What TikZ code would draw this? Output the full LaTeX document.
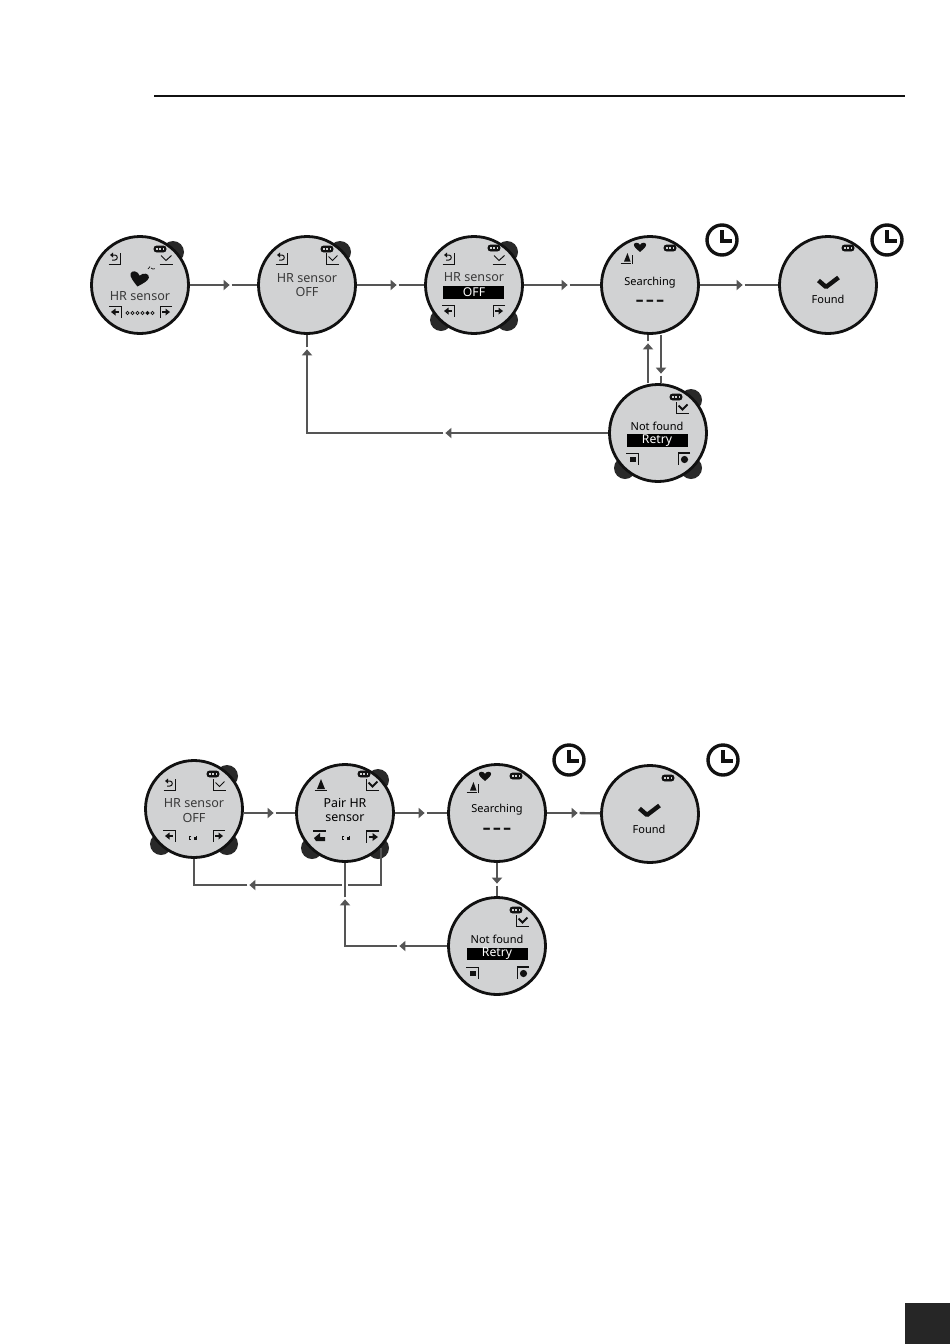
\documentclass[tikz,border=0pt]{standalone}
\usepackage{fontspec}
\setmainfont{Noto Sans}
\usetikzlibrary{shapes.geometric}
\definecolor{face}{HTML}{D1D2D3}
\definecolor{ink}{HTML}{111111}
\definecolor{wire}{HTML}{555555}
\definecolor{faint}{HTML}{3A3A3A}
\tikzset{
  watch/.style={circle,draw=ink,fill=face,line width=2.8pt,minimum size=97pt,inner sep=0pt},
  knob/.style={fill=ink!90!white},
  clockring/.style={circle,draw=ink,line width=3.4pt,minimum size=30pt,inner sep=0pt},
  clockhand/.style={draw=ink,line width=3.2pt,line join=miter},
  conn/.style={draw=wire,line width=2.3pt,line join=miter},
  flowtip/.style={isosceles triangle,isosceles triangle stretches,fill=wire,inner sep=0pt,outer sep=0pt,minimum height=6pt,minimum width=10.5pt},
  tr/.style={flowtip,shape border rotate=0},
  tl/.style={flowtip,shape border rotate=180},
  tu/.style={flowtip,shape border rotate=90},
  td/.style={flowtip,shape border rotate=270},
  lite/.style={text=faint,font=\fontsize{12.6}{13}\selectfont,inner sep=0pt},
  dark/.style={text=black,font=\fontsize{11}{12}\selectfont,inner sep=0pt},
  darkb/.style={text=black,font=\fontsize{12.4}{13}\selectfont,inner sep=0pt},
  inv/.style={text=white,font=\fontsize{12.2}{13}\selectfont,inner sep=0pt},
  dashes/.style={text=ink,font=\fontsize{27}{27}\bfseries\selectfont,inner sep=0pt},
  ic/.style={draw=ink,line width=1pt},
  icb/.style={draw=ink,line width=1.8pt},
  battery/.pic={
    \draw[draw=ink,fill=ink,line width=.8pt,rounded corners=2.6pt] (-6,-3) rectangle (6,3);
    \foreach \q in {-3.4,0,3.4} \fill[face] (\q-.9,-1.4) rectangle (\q+.9,1.4);
  },
  heartmark/.pic={
    \fill[ink] (0,9) .. controls (-6,4) and (-11,0) .. (-11,-4) .. controls (-11,-9) and (-3,-9) .. (0,-4)
      .. controls (3,-9) and (11,-9) .. (11,-4) .. controls (11,0) and (6,4) .. (0,9) -- cycle;
  },
  backicon/.pic={
    \draw[ic] (-6.5,6)--(5,6)--(5,-5);
    \draw[ic] (-3,-3)--(0,-3) .. controls (3,-3) and (3,2) .. (0,2)--(-3,2);
    \fill[ink] (-5,-3)--(-2,-5.5)--(-2,-.5)--cycle;
  },
  upicon/.pic={
    \draw[icb] (-6.5,5.5)--(3.5,5.5);
    \draw[ic] (5.5,6)--(5.5,-3);
    \fill[ink] (-3,3.5)--(.5,-5)--(3.5,3.5)--cycle;
  },
  flaskicon/.pic={
    \draw[icb] (-6.5,5.5)--(6,5.5);
    \fill[ink] (-4,4)--(0,-6)--(4,4)--cycle;
  },
  okline/.pic={
    \draw[ic] (-6.5,5)--(6.5,5);
    \draw[ic] (-5,-3.5)--(0,1.5)--(5.5,-3.5);
  },
  okbrack/.pic={
    \draw[ic] (-6,-6)--(-6,5)--(6.5,5);
    \draw[ic] (-3.5,-2.5)--(.5,1.5)--(5.5,-3.5);
  },
  okbold/.pic={
    \draw[ic] (-6,-6)--(-6,5)--(6.5,5);
    \draw[icb] (-3.5,-2.5)--(.5,1.5)--(5.5,-3.5);
  },
  leftarr/.pic={
    \draw[ic] (-7,-6)--(5,-6)--(5,5.5);
    \draw[icb] (-1,0)--(3,0);
    \fill[ink] (-5,0)--(-.5,-3.5)--(-.5,3.5)--cycle;
  },
  rightarr/.pic={
    \draw[ic] (7,-6)--(-5,-6)--(-5,5.5);
    \draw[icb] (1,0)--(-3,0);
    \fill[ink] (5,0)--(.5,-3.5)--(.5,3.5)--cycle;
  },
  leftbold/.pic={
    \draw[icb] (-7,-6)--(6,-6);
    \fill[ink] (-6,1)--(0,-4)--(0,0)--(5,0)--(5,4)--(-4,4)--cycle;
  },
  rightbold/.pic={
    \draw[icb] (7,-6)--(-6,-6);
    \draw[ic] (-6,-6)--(-6,5.5);
    \draw[icb] (1,0)--(-3,0);
    \fill[ink] (6,0)--(.5,-4)--(.5,4)--cycle;
  },
  squarel/.pic={
    \draw[ic] (-7,-6)--(5,-6)--(5,5.5);
    \fill[ink] (-3,-2.5) rectangle (2.5,3);
  },
  burstr/.pic={
    \draw[icb] (7,-6)--(-5,-6);
    \draw[ic] (-5,-6)--(-5,5.5);
    \fill[ink] (1.5,.5) circle (3.6pt);
  },
  tinypair/.pic={
    \draw[draw=ink,line width=.9pt] (-1.6,-1.6)--(-3.6,-1.6)--(-3.6,1.6)--(-1.6,1.6);
    \fill[ink] (1,-.6) rectangle (3.8,1.8);
    \fill[ink] (3,-2) rectangle (3.8,1.8);
  },
  dotrow/.pic={
    \foreach \q in {-12.5,-7.5,-2.5,2.5,7.5,12.5} \draw[draw=ink,line width=.6pt] (\q,0) circle (1.6pt);
    \fill[ink] (7.5,0) circle (1.6pt);
  },
  bigtick/.pic={
    \draw[draw=ink,line width=4.4pt,line join=round] (-9.5,-3.5)--(-2,3)--(10.5,-6.5);
  },
  waves/.pic={
    \draw[draw=ink,line width=.7pt] (-2,-1) arc[start angle=180,end angle=100,radius=2.4pt];
    \draw[draw=ink,line width=.7pt] (1,-2) arc[start angle=-140,end angle=-60,radius=3pt];
  }
}
\begin{document}
\begin{tikzpicture}[x=1pt,y=-1pt]
\useasboundingbox (0,0) rectangle (950,1344);
\fill[white] (0,0) rectangle (950,1344);
\draw[draw=ink,line width=1.3pt] (154,96)--(905,96);
\fill[black!85] (905,1303) rectangle (950,1344);

% knobs behind the faces: top right of A B C F G H, bottom pair of C F G H
\foreach \p/\r in {140/285,307/285,474/285,658/433,194/809,345/813} {
  \fill[knob] (\p+33,\r-33) circle (11pt);
}
\foreach \p/\r in {474/285,658/433,194/809,345/813} {
  \fill[knob] (\p+33,\r+35) circle (11pt);
  \fill[knob] (\p-33,\r+35) circle (11pt);
}

% faces
\node[watch] (A) at (140,285) {};
\node[watch] (B) at (307,285) {};
\node[watch] (C) at (474,285) {};
\node[watch] (D) at (650,285) {};
\node[watch] (E) at (828,285) {};
\node[watch] (F) at (658,433) {};
\node[watch] (G) at (194,809) {};
\node[watch] (H) at (345,813) {};
\node[watch] (I) at (497,813) {};
\node[watch] (J) at (650,814) {};
\node[watch] (K) at (497,946) {};

% markers, row 1
\node[tr] (m1) at (226,285) {};
\node[tr] (m2) at (393,285) {};
\node[tr] (m3) at (564,285) {};
\node[tr] (m4) at (739,285) {};
\node[tu] (m5) at (648,347) {};
\node[td] (m6) at (661,370) {};
\node[tl] (m7) at (449,433) {};
\node[tu] (m8) at (307,353) {};
\coordinate (b1) at (307,433);
% markers, row 2
\node[tr] (n1) at (270,813) {};
\node[tr] (n2) at (421,813) {};
\node[tr] (n3) at (574,813) {};
\node[td] (n4) at (497,880) {};
\node[tl] (n5) at (403,946) {};
\node[tu] (n6) at (345,903) {};
\node[tl] (n7) at (253,885) {};
\coordinate (c1) at (345,946);
\coordinate (c2) at (381,885);
\coordinate (c3) at (194,885);
\coordinate (c4) at (381,848);

% connectors, row 1
\draw[conn] (A)--(m1);
\draw[conn,shorten <=2pt] (m1)--(B);
\draw[conn] (B)--(m2);
\draw[conn,shorten <=2pt] (m2)--(C);
\draw[conn] (C)--(m3);
\draw[conn,shorten <=2pt] (m3)--(D);
\draw[conn] (D)--(m4);
\draw[conn,shorten <=2pt] (m4)--(E);
\draw[conn] (m5 |- F.north)--(m5);
\draw[conn,shorten <=2pt] (m5)--(m5 |- D.south);
\draw[conn] (m6 |- D.south)--(m6);
\draw[conn,shorten <=2pt] (m6)--(m6 |- F.north);
\draw[conn] (F)--(m7);
\draw[conn,shorten <=2pt] (m7)--(b1)--(m8);
\draw[conn,shorten <=2pt] (m8)--(B);

% connectors, row 2
\draw[conn] (n1 -| G.east)--(n1);
\draw[conn,shorten <=2pt] (n1)--(H);
\draw[conn] (H)--(n2);
\draw[conn,shorten <=2pt] (n2)--(I);
\draw[conn] (I)--(n3);
\draw[conn,shorten <=2pt] (n3)--(J);
\draw[conn] (I)--(n4);
\draw[conn,shorten <=2pt] (n4)--(K);
\draw[conn] (c4)--(c2)--(n7);
\draw[conn,shorten <=2pt] (n7)--(c3)--(G);
\draw[conn] (K)--(n5);
\draw[conn,shorten <=2pt] (n5)--(c1)--(n6);
\draw[draw=white,line width=6pt,shorten <=10pt,shorten >=10pt] (n6)--(H);
\draw[conn,shorten <=2pt] (n6)--(H);

% clocks
\foreach \nm/\cx/\cy in {ck1/722/240,ck2/887/240,ck3/569/760,ck4/723/760} {
  \node[clockring] (\nm) at (\cx,\cy) {};
  \draw[clockhand] (\cx,\cy-10)--(\cx,\cy+1)--(\cx+10,\cy+1);
}

% A
\pic at (160,249) {battery};
\pic at (115,258) {backicon};
\pic at (166,259) {okline};
\pic[scale=.85,rotate=-12] at (139,279) {heartmark};
\pic at (150,270) {waves};
\node[lite] (ta) at (140,296) {HR sensor};
\pic at (116,312) {leftarr};
\pic at (165,312) {rightarr};
\pic at (140,313) {dotrow};
% B
\pic at (327,249) {battery};
\pic at (282,258) {backicon};
\pic at (332,259) {okbrack};
\node[lite] (tb1) at (307,278) {HR sensor};
\node[lite] (tb2) at (307,292) {OFF};
% C
\pic at (494,248) {battery};
\pic at (449,258) {backicon};
\pic at (499,259) {okline};
\node[lite] (tc1) at (474,277) {HR sensor};
\fill[black] (443,286) rectangle (504,299);
\node[inv] (tc2) at (474,292) {OFF};
\pic at (449,311) {leftarr};
\pic at (498,311) {rightarr};
% D
\pic[scale=.55] at (640,247) {heartmark};
\pic at (670,248) {battery};
\pic at (627,258) {upicon};
\node[dark] (td1) at (650,283) {Searching};
\node[dashes] (td2) at (650,304) {-\kern1.5pt-\kern1.5pt-};
% E
\pic at (848,248) {battery};
\pic at (828,284) {bigtick};
\node[dark] (te) at (828,299) {Found};
% F
\pic at (676,397) {battery};
\pic at (682,408) {okbold};
\node[dark] (tf1) at (657,426) {Not found};
\fill[black] (627,434) rectangle (688,447);
\node[inv] (tf2) at (657,441) {Retry};
\pic at (633,459) {squarel};
\pic at (683,459) {burstr};
% G
\pic at (213,774) {battery};
\pic at (170,784) {backicon};
\pic at (219,785) {okbrack};
\node[lite] (tg1) at (194,803) {HR sensor};
\node[lite] (tg2) at (194,818) {OFF};
\pic at (170,836) {leftarr};
\pic at (218,836) {rightarr};
\pic at (193,838) {tinypair};
% H
\pic at (364,774) {battery};
\pic at (321,785) {flaskicon};
\pic at (372,785) {okbold};
\node[darkb] (th1) at (345,803) {Pair HR};
\node[darkb] (th2) at (345,818) {sensor};
\pic at (320,837) {leftbold};
\pic at (372,837) {rightbold};
\pic at (346,838) {tinypair};
% I
\pic[scale=.55] at (485,776) {heartmark};
\pic at (516,776) {battery};
\pic at (473,787) {upicon};
\node[dark] (ti1) at (497,810) {Searching};
\node[dashes] (ti2) at (497,832) {-\kern1.5pt-\kern1.5pt-};
% J
\pic at (668,778) {battery};
\pic at (649,812) {bigtick};
\node[dark] (tj) at (649,829) {Found};
% K
\pic at (516,910) {battery};
\pic at (522,921) {okbold};
\node[dark] (tk1) at (497,939) {Not found};
\fill[black] (467,948) rectangle (528,960);
\node[inv] (tk2) at (497,954) {Retry};
\pic at (473,973) {squarel};
\pic at (522,973) {burstr};
\end{tikzpicture}
\end{document}
